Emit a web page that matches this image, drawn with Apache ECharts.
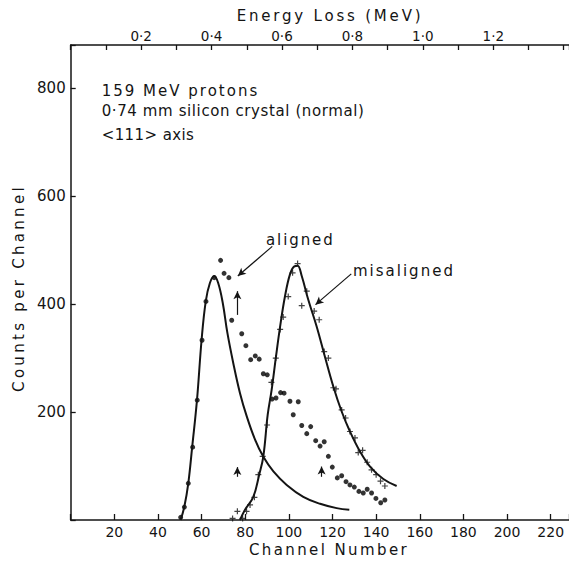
<!DOCTYPE html>
<html><head><meta charset="utf-8">
<script src="https://cdn.jsdelivr.net/npm/echarts@6/dist/echarts.min.js"></script>
<style>html,body{margin:0;padding:0;background:#fff;}#c{width:569px;height:561px;}</style>
</head><body><div id="c"></div>
<script>
// ---- data ----
const channelTickLabels = [20, 40, 60, 80, 100, 120, 140, 160, 180, 200, 220];
const energyTickLabels = ['0·2', '0·4', '0·6', '0·8', '1·0', '1·2'];
const countTickLabels = [200, 400, 600, 800];

// aligned measurements (dots): [channel, counts]
const alignedData = [
  [50.4,5],[52.1,24],[53.9,68],[55.9,135],[58,222],[60.2,333],[62,405],[65.8,449],
  [68.7,481],[70.3,457],[72.5,449],[73.8,370],[78.4,345],[80.3,323],[82.5,297],[84.6,304],
  [86.4,298],[88.3,271],[90.1,269],[92.3,224],[94.1,226],[96.2,236],[97.8,235],[100.5,220],
  [102,195],[104.3,219],[105.9,175],[108.2,160],[110,173],[112.3,147],[114.3,137],[116.2,145],
  [118.1,118],[119.9,98],[122.2,78],[124.2,82],[126.2,71],[128,65],[130,61],[132.1,53],
  [134.1,50],[135.9,57],[137.9,50],[139.9,40],[142.1,32],[144,37]
];
// misaligned measurements (crosses)
const misalignedData = [
  [74.2,3],[76.4,16],[78.8,3],[80.6,16],[82.2,28],[84.2,42],[86,84],[88,118],[90,176],
  [92,255],[94,300],[96,353],[97.4,376],[99.7,414],[101.7,458],[104,475],[105.9,397],
  [108.2,424],[111.6,387],[113.9,371],[116.2,312],[118.1,300],[120.4,245],[121.6,243],
  [124.2,204],[126,189],[128,164],[130.3,152],[131.8,125],[133.8,129],[135.9,107],
  [137.9,93],[140,84],[142,72],[144,63]
];
// fitted curves
const alignedFit = [
  [50.4,0],[52.1,25],[53.9,68],[55.7,136],[57.9,223],[60,334],[61.9,405],[63.8,439],
  [65.8,452],[67.6,439],[69.7,402],[71.8,347],[74.5,291],[77.6,235],[80.7,192],[84.5,149],
  [88.3,117],[92.9,90],[99,65],[106.6,43],[114.3,30],[121.9,22],[127.7,19]
];
const misalignedFit = [
  [77.6,0],[79.9,19],[83.7,43],[86.4,84],[88.3,118],[90.3,195],[92.1,241],[94.1,303],
  [95.9,356],[98.2,414],[100.5,455],[102.5,470],[104,471],[105.9,452],[108.9,408],
  [112.7,359],[116.5,303],[120.4,247],[124.2,201],[128,164],[132.6,127],[137.2,99],
  [143.3,76],[149.4,63]
];
// small vertical arrows: [channel, fromCounts, toCounts]
const verticalArrows = [[76.4, 380, 424], [76.4, 80, 98], [115, 80, 99]];
// pointer arrows for the labels: [fromChannel, fromCounts, toChannel, toCounts]
const pointerArrows = [[92.4, 507, 76.6, 452], [128.6, 456, 112.2, 399]];
const notes = ['159 MeV protons', '0·74 mm silicon crystal (normal)', '<111> axis'];
const curveLabels = ['aligned', 'misaligned'];
const axisTitles = ['Energy Loss (MeV)', 'Channel Number', 'Counts per Channel'];

const FONT = 'DejaVu Sans';
const INK = '#141414';

// letter spacing (px) per text, to mimic the wide stencil lettering
const spacing = {};
spacing[axisTitles[0]] = 2.8; spacing[axisTitles[1]] = 2.4; spacing[axisTitles[2]] = 3.3;
spacing[notes[0]] = 2.0; spacing[notes[1]] = 0.6; spacing[notes[2]] = 0.4;
spacing[curveLabels[0]] = 1.9; spacing[curveLabels[1]] = 2.0;

const chart = echarts.init(document.getElementById('c'), null, {renderer: 'svg'});

const arrowLines = verticalArrows.map(a => [{coord: [a[0], a[1]]}, {coord: [a[0], a[2]]}])
  .concat(pointerArrows.map(a => [{coord: [a[0], a[1]]}, {coord: [a[2], a[3]]}]));

function txt(text, x, y, align, rot) {
  const o = {type: 'text', x: x, y: y, style: {text: text, fontSize: 15, fontFamily: FONT, fill: INK, textAlign: align, textVerticalAlign: 'middle'}};
  if (rot) o.rotation = rot;
  return o;
}

chart.setOption({
  animation: false,
  backgroundColor: '#ffffff',
  grid: {left: 70.7, right: 0, top: 45, bottom: 41, containLabel: false, outerBoundsMode: 'none'},
  xAxis: [{
    type: 'value', position: 'bottom', min: 0, max: 228.4, interval: 20,
    axisLine: {show: true, lineStyle: {color: INK, width: 1.5}},
    axisTick: {show: true, inside: true, length: 6, lineStyle: {color: INK, width: 1.3}},
    axisLabel: {
      color: INK, fontSize: 14, fontFamily: FONT, margin: 5,
      formatter: v => { const i = channelTickLabels.indexOf(Math.round(v)); return (i >= 0 && Math.abs(v - Math.round(v)) < 1e-6) ? String(channelTickLabels[i]) : ''; }
    },
    splitLine: {show: false}
  }, {
    type: 'value', position: 'top', min: 0, max: 1.415, interval: 0.1,
    axisLine: {show: true, onZero: false, lineStyle: {color: INK, width: 1.5}},
    axisTick: {show: true, inside: true, length: 5, lineStyle: {color: INK, width: 1.3}},
    axisLabel: {
      color: INK, fontSize: 13.5, fontFamily: FONT, margin: 2,
      formatter: v => { const r = Math.round(v * 10); if (Math.abs(v * 10 - r) > 1e-6 || r % 2 || r <= 0) return ''; const l = energyTickLabels[r / 2 - 1]; return l || ''; }
    },
    splitLine: {show: false}
  }],
  yAxis: {
    type: 'value', min: 0, max: 880, interval: 200,
    axisLine: {show: true, lineStyle: {color: INK, width: 1.5}},
    axisTick: {show: true, inside: true, length: 5, lineStyle: {color: INK, width: 1.3}},
    axisLabel: {
      color: INK, fontSize: 15, fontFamily: FONT, margin: 5,
      formatter: v => countTickLabels.indexOf(v) >= 0 ? String(v) : ''
    },
    splitLine: {show: false}
  },
  series: [{
    type: 'line', data: alignedFit, smooth: 0.4, showSymbol: false, silent: true,
    lineStyle: {color: INK, width: 2}
  }, {
    type: 'line', data: misalignedFit, smooth: 0.4, showSymbol: false, silent: true,
    lineStyle: {color: INK, width: 2},
    markLine: {
      silent: true, symbol: ['none', 'arrow'], symbolSize: [6, 8], animation: false,
      label: {show: false},
      lineStyle: {color: INK, width: 1.2, type: 'solid'},
      data: arrowLines
    }
  }, {
    type: 'scatter', data: alignedData, symbol: 'circle', symbolSize: 5,
    itemStyle: {color: '#000'}, silent: true
  }, {
    type: 'scatter', data: misalignedData,
    symbol: 'path://M2,0H3V2H5V3H3V5H2V3H0V2H2Z', symbolSize: 6,
    itemStyle: {color: INK}, silent: true
  }],
  graphic: [
    txt(axisTitles[0], 330, 16, 'center'),
    txt(axisTitles[1], 329, 550, 'center'),
    txt(axisTitles[2], 19, 288, 'center', Math.PI / 2),
    txt(notes[0], 101.7, 90.5, 'left'),
    txt(notes[1], 101.7, 111, 'left'),
    txt(notes[2], 101.7, 135, 'left'),
    txt(curveLabels[0], 266, 240, 'left'),
    txt(curveLabels[1], 353, 271, 'left')
  ]
});

// apply letter spacing to the rendered SVG text nodes
document.querySelectorAll('#c svg text').forEach(t => {
  const s = spacing[t.textContent];
  if (s) t.setAttribute('letter-spacing', s + 'px');
});
</script></body></html>
